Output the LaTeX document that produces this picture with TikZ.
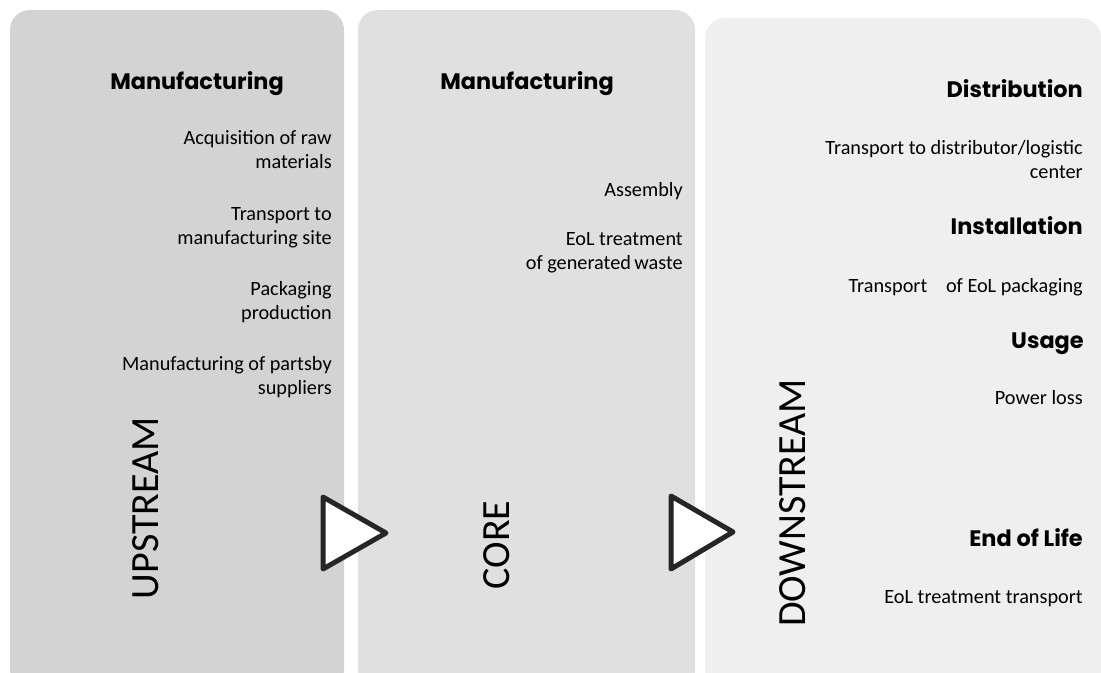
\documentclass[tikz,border=0pt]{standalone}
\usepackage{fontspec}
\setmainfont{Carlito}
\newfontfamily\headfont{Poppins}

\definecolor{upfill}{RGB}{211,211,211}
\definecolor{corefill}{RGB}{224,224,224}
\definecolor{downfill}{RGB}{239,239,239}
\definecolor{tridark}{RGB}{38,38,38}

\begin{document}
\begin{tikzpicture}[x=0.75pt,y=0.75pt,yscale=-1,xscale=1,
	head/.style={inner sep=0pt,font=\headfont\bfseries\fontsize{16.8}{20}\selectfont},
	item/.style={inner sep=0pt,align=right,anchor=base east,font=\fontsize{15.2}{18}\selectfont},
	stream/.style={inner sep=0pt,rotate=90,font=\fontsize{30}{36}\selectfont},
	flow/.style={color=tridark,fill=white,line width=3.75,line join=round}]
					\clip (0,0) rectangle (1101,673);
					
					%Shape: Rounded Rectangle [upstream panel]
					\fill [color=upfill] [rounded corners=15] (10,10) rectangle (344,690) ;
					%Shape: Rounded Rectangle [core panel]
					\fill [color=corefill] [rounded corners=15] (358,10) rectangle (695,690) ;
					%Shape: Rounded Rectangle [downstream panel]
					\fill [color=downfill] [rounded corners=15] (705,18) rectangle (1101,690) ;
					
					%Shape: Triangle
					\draw [flow] (323,497) -- (386,533) -- (323,569) -- cycle ;
					%Shape: Triangle
					\draw [flow] (671,496) -- (733,532) -- (671,569) -- cycle ;
					
					% Text Node (base = last line)
					\draw (197,90) node [head,anchor=base] (upHead) {Manufacturing};
					% Text Node
					\draw (332,169) node [item] (upRaw) {Acquisition of raw\\materials};
					% Text Node
					\draw (332,245) node [item] (upTransport) {Transport to\\manufacturing site};
					% Text Node
					\draw (332,320) node [item] (upPackaging) {Packaging\\production};
					% Text Node
					\draw (332,395) node [item] (upParts) {Manufacturing of partsby\\suppliers};
					% Text Node
					\draw (146,508) node [stream] (upstream) {UPSTREAM};
					
					% Text Node
					\draw (527,90) node [head,anchor=base] (coreHead) {Manufacturing};
					% Text Node
					\draw (683,197) node [item] (coreAssembly) {Assembly};
					% Text Node
					\draw (683,270) node [item] (coreWaste) {EoL treatment\\of generated\,waste};
					% Text Node
					\draw (497,545) node [stream] (core) {CORE};
					
					% Text Node
					\draw (1083,98) node [head,anchor=base east] (distHead) {Distribution};
					% Text Node
					\draw (1083,179) node [item] (distTransport) {Transport to distributor/logistic\\center};
					% Text Node
					\draw (1083,235) node [head,anchor=base east] (instHead) {Installation};
					% Text Node
					\draw (1083,293) node [item] (instTransport) {Transport\hspace{0.7em} of EoL packaging};
					% Text Node
					\draw (1084,349) node [head,anchor=base east] (useHead) {Usage};
					% Text Node
					\draw (1083,405) node [item] (usePower) {Power loss};
					% Text Node
					\draw (1083,547) node [head,anchor=base east] (eolHead) {End of Life};
					% Text Node
					\draw (1083,604) node [item] (eolTransport) {EoL treatment transport};
					% Text Node
					\draw (793,503) node [stream] (downstream) {DOWNSTREAM};
					
				\end{tikzpicture}
\end{document}
